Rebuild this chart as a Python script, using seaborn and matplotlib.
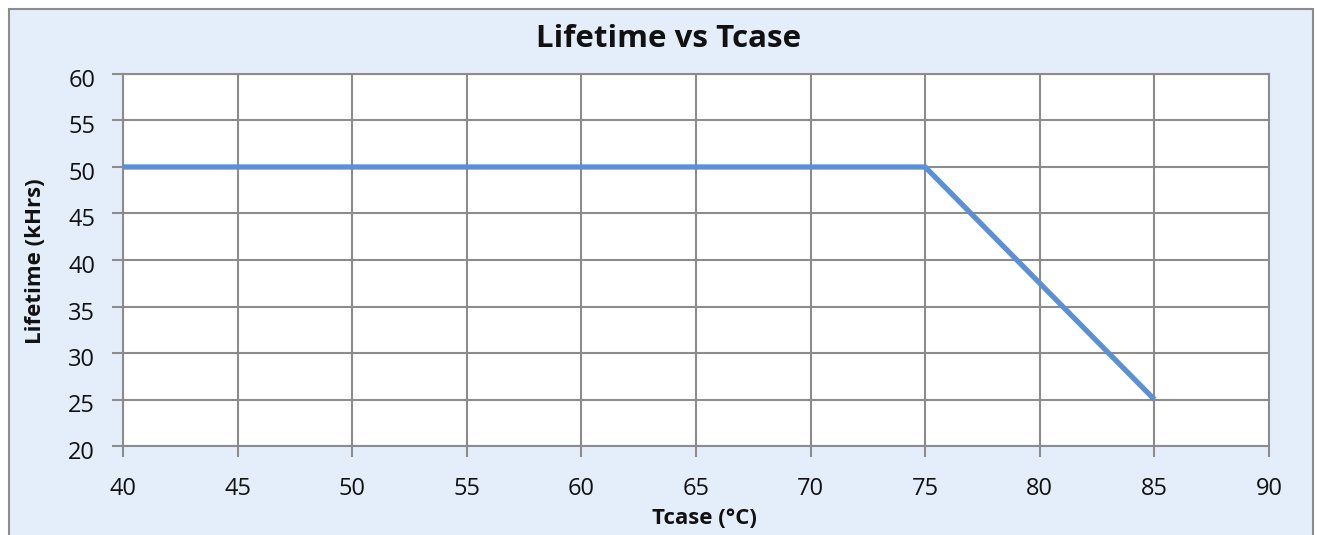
import pandas as pd
import matplotlib
matplotlib.use("Agg")
import matplotlib.pyplot as plt
import seaborn as sns
from matplotlib.patches import Rectangle
from matplotlib.transforms import ScaledTranslation

tcase = [40, 75, 85]
lifetime = [50, 50, 25]
x_ticks = [40, 45, 50, 55, 60, 65, 70, 75, 80, 85, 90]
y_ticks = [20, 25, 30, 35, 40, 45, 50, 55, 60]

df = pd.DataFrame({"Tcase": tcase, "Lifetime": lifetime})

sns.set_style("white")
plt.rcParams["font.family"] = ["Open Sans", "DejaVu Sans"]

bg = "#E4EEFA"
grid_col = "#8C8C8C"
txt = "#111111"

fig = plt.figure(figsize=(13.17, 5.35), dpi=100)
fig.patch.set_facecolor("white")
# outer chart border (cut off at the bottom like the original)
fig.patches.append(Rectangle((9 / 1317, -0.05), (1313 - 9) / 1317, (535 - 9) / 535 + 0.05,
                             transform=fig.transFigure, facecolor=bg, edgecolor=grid_col,
                             linewidth=1.5, zorder=-10))

ax = fig.add_axes([123 / 1317, 89 / 535, (1269 - 123) / 1317, (446 - 74) / 535])
ax.set_facecolor("white")

sns.lineplot(data=df, x="Tcase", y="Lifetime", ax=ax, color="#5B8FD8", linewidth=3.8,
             solid_capstyle="butt", zorder=5)

ax.set_xlim(40, 90)
ax.set_ylim(20, 60)
ax.set_xticks(x_ticks)
ax.set_yticks(y_ticks)
ax.grid(True, color=grid_col, linewidth=1.5)
ax.set_axisbelow(True)
for s in ax.spines.values():
    s.set_color(grid_col)
    s.set_linewidth(1.5)
ax.tick_params(axis="both", direction="out", length=8, width=1.5, color=grid_col,
               labelsize=17, labelcolor=txt, bottom=True, left=True)
ax.tick_params(axis="x", pad=14)
ax.tick_params(axis="y", pad=12)
# y labels sit a little below their ticks in the original
shift = ScaledTranslation(0, -0.04, fig.dpi_scale_trans)
for lab in ax.get_yticklabels():
    lab.set_transform(lab.get_transform() + shift)

ax.set_xlabel("Tcase (°C)", fontsize=16, fontweight="bold", color=txt, va="center")
ax.xaxis.set_label_coords((704 - 123) / 1146, -(518 - 446) / 372)
ax.set_ylabel("Lifetime (kHrs)", fontsize=16, fontweight="bold", color=txt, va="center")
ax.yaxis.set_label_coords((36 - 123) / 1146, (446 - 261) / 372)

fig.text(669 / 1317, 1 - 39 / 535, "Lifetime vs Tcase", ha="center", va="center",
         fontsize=22.5, fontweight="bold", color=txt)

fig.savefig("out.png", dpi=100, facecolor=fig.get_facecolor())
